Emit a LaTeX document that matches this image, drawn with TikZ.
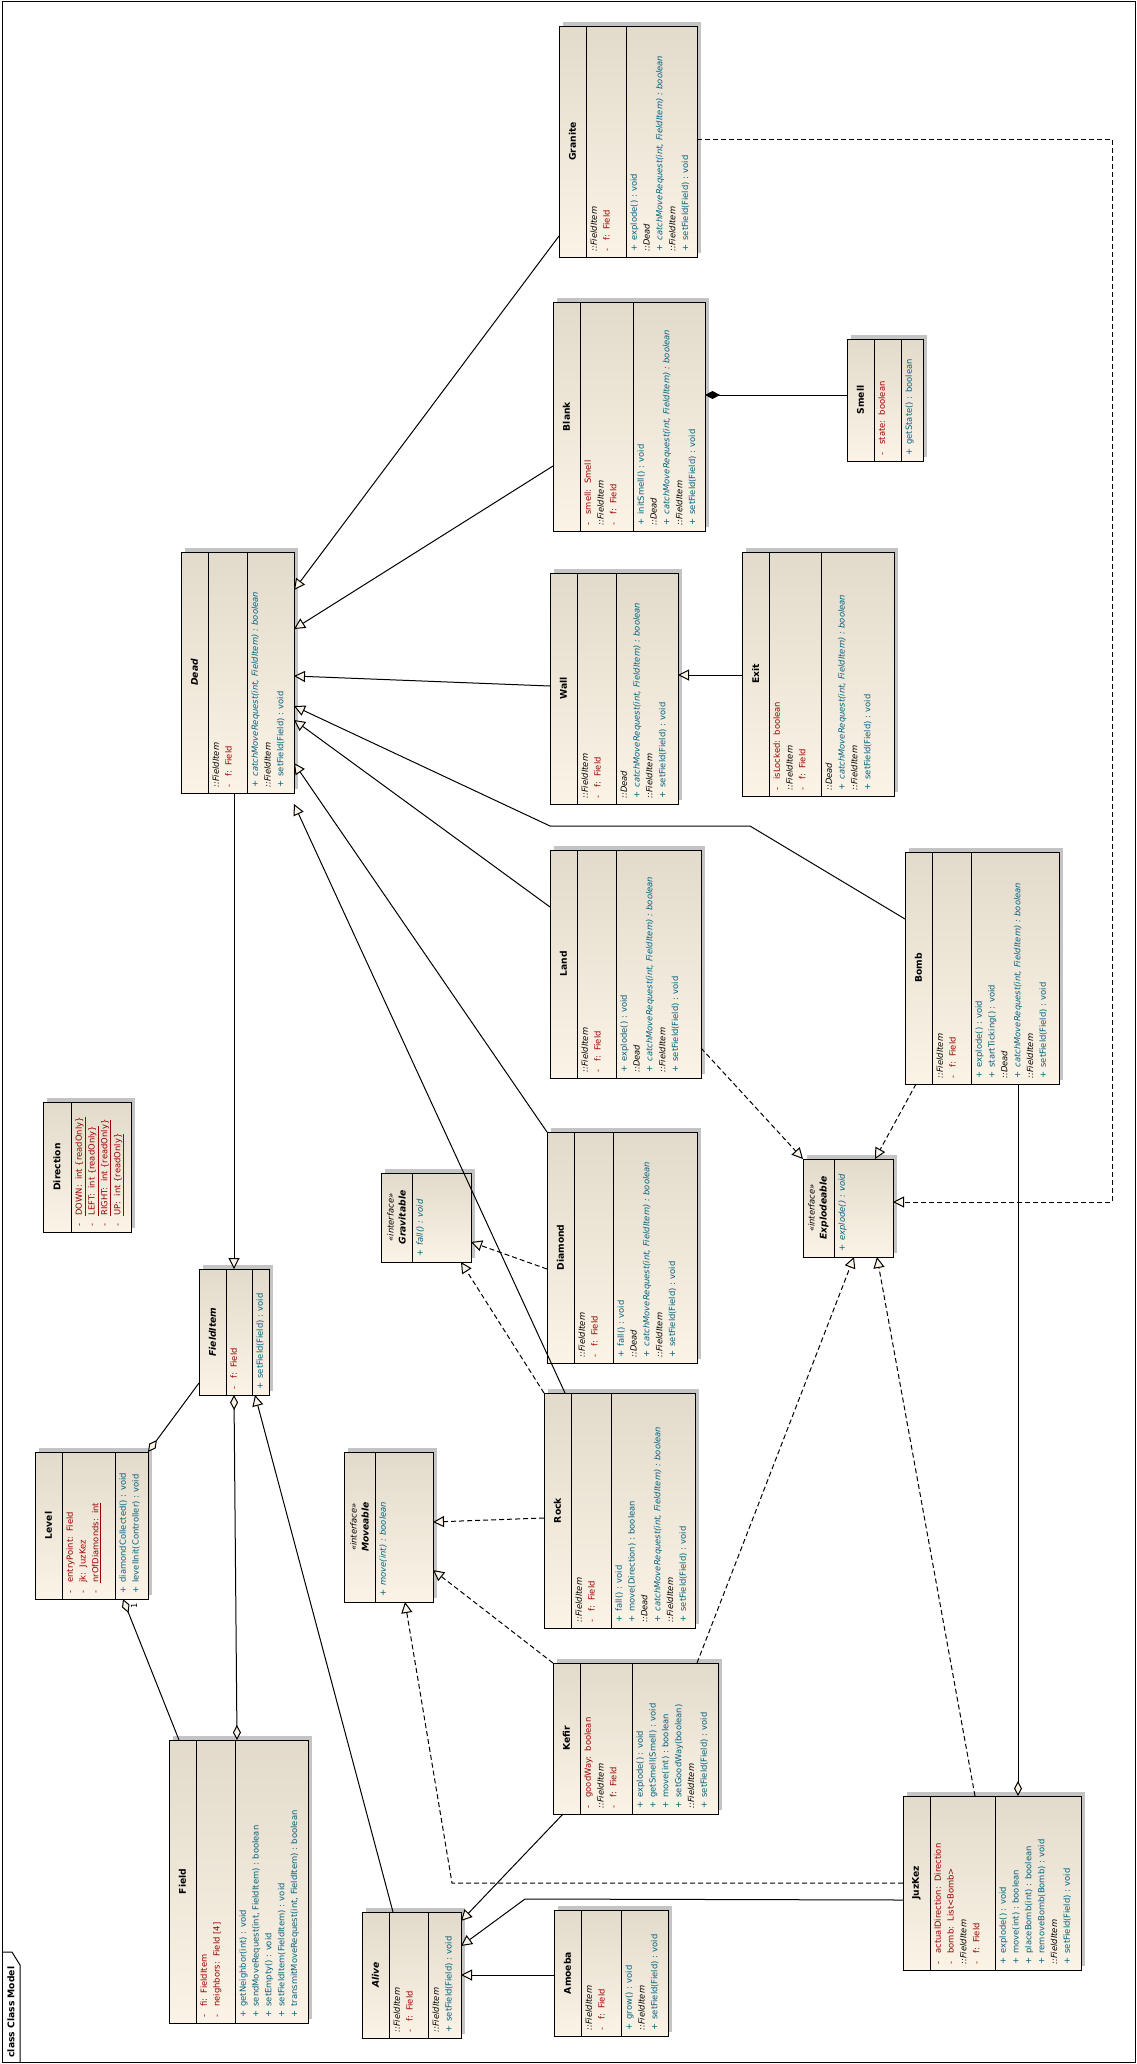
\documentclass[tikz,border=0pt]{standalone}
\usepackage{fontspec}
\setmainfont{DejaVu Sans}
\usetikzlibrary{arrows.meta}
\definecolor{attr}{HTML}{9A0000}
\definecolor{meth}{HTML}{00607F}
\definecolor{boxtop}{HTML}{E2DACB}
\definecolor{boxbot}{HTML}{FBF3E5}
\definecolor{shadowc}{HTML}{C4C4C4}
\newcommand\AT[1]{\textcolor{attr}{\makebox[11pt][l]{-}#1}}
\newcommand\MT[1]{\textcolor{meth}{\makebox[11pt][l]{+}#1}}
\newcommand\inh[1]{\textit{::#1}}
\newcommand\cmr{\MT{\textit{catchMoveRequest(int, FieldItem) : boolean}}}
\newcommand\sfl{\MT{setField(Field) : void}}
\newcommand\fif{\inh{FieldItem}\\\AT{f:\ \ Field}}
\tikzset{
 every path/.style={line width=1pt},
 cls/.style={draw, line width=1pt, top color=boxtop, bottom color=boxbot, inner sep=0pt, outer sep=0pt},
 txt/.style={rotate=90, inner sep=0pt, align=left, font=\fontsize{8.4}{12.8}\selectfont},
 ttl/.style={rotate=90, inner sep=0pt, align=center, font=\fontsize{9.2}{12}\selectfont\bfseries},
 gen/.style={-{Triangle[length=11pt,width=11pt,fill=boxbot]}},
 real/.style={gen, dash pattern=on 5pt off 3pt},
 aggr/.style={-{Diamond[length=15pt,width=8pt,fill=boxbot]}},
 comp/.style={-{Diamond[length=15pt,width=8pt,fill=black]}},
}
\newcommand\ubox[9]{%
 \fill[shadowc] (#2+4,#3-4) rectangle (#4+4,#5-4);
 \pgfmathsetmacro\bw{#4-#2}\pgfmathsetmacro\bh{#5-#3}
 \node[cls, minimum width=\bw pt, minimum height=\bh pt, anchor=north west] (#1) at (#2,#3) {};
 \draw (#6,#3) -- (#6,#5);
 \draw (#7,#3) -- (#7,#5);
 \node[txt, anchor=north west] at (#6+4,#5-5) {#8};
 \node[txt, anchor=north west] at (#7+4,#5-5) {#9};
 \coordinate (#1-t) at ({(#2+#6)/2},{(#3+#5)/2});
}
\newcommand\uboxtwo[7]{%
 \fill[shadowc] (#2+4,#3-4) rectangle (#4+4,#5-4);
 \pgfmathsetmacro\bw{#4-#2}\pgfmathsetmacro\bh{#5-#3}
 \node[cls, minimum width=\bw pt, minimum height=\bh pt, anchor=north west] (#1) at (#2,#3) {};
 \draw (#6,#3) -- (#6,#5);
 \node[txt, anchor=north west] at (#6+4,#5-5) {#7};
 \coordinate (#1-t) at ({(#2+#6)/2},{(#3+#5)/2});
}
\begin{document}
\begin{tikzpicture}[x=1pt,y=-1pt]
\useasboundingbox (0,0) rectangle (1137,2064);
\fill[white] (0,0) rectangle (1137,2064);
% frame
\draw (2,1) rectangle (1135,2062);
\draw (2,1952) -- (12,1952) -- (20,1965) -- (20,2062);
\node[rotate=90, anchor=west, inner sep=0pt, font=\fontsize{9.2}{12}\selectfont\bfseries] (title) at (11,2058) {class Class Model};

% boxes
\ubox{Granite}{559}{26}{697}{257}{586}{626}{\fif}{\MT{explode() : void}\\\inh{Dead}\\\cmr\\\inh{FieldItem}\\\sfl}
\ubox{Blank}{553}{302}{705}{531}{580}{633}{\AT{smell:\ \ Smell}\\\fif}{\MT{initSmell() : void}\\\inh{Dead}\\\cmr\\\inh{FieldItem}\\\sfl}
\ubox{Smell}{847}{339}{923}{461}{874}{901}{\AT{state:\ \ boolean}}{\MT{getState() : boolean}}
\ubox{Dead}{181}{552}{294}{793}{208}{247}{\fif}{\cmr\\\inh{FieldItem}\\\sfl}
\ubox{Wall}{550}{573}{678}{804}{577}{616}{\fif}{\inh{Dead}\\\cmr\\\inh{FieldItem}\\\sfl}
\ubox{Exit}{742}{552}{894}{796}{769}{821}{\AT{isLocked:\ \ boolean}\\\fif}{\inh{Dead}\\\cmr\\\inh{FieldItem}\\\sfl}
\ubox{Land}{550}{850}{701}{1078}{577}{616}{\fif}{\MT{explode() : void}\\\inh{Dead}\\\cmr\\\inh{FieldItem}\\\sfl}
\ubox{Bomb}{905}{852}{1059}{1084}{932}{971}{\fif}{\MT{explode() : void}\\\MT{startTicking() : void}\\\inh{Dead}\\\cmr\\\inh{FieldItem}\\\sfl}
\ubox{Diamond}{547}{1132}{697}{1363}{574}{613}{\fif}{\MT{fall() : void}\\\inh{Dead}\\\cmr\\\inh{FieldItem}\\\sfl}
\ubox{Rock}{544}{1393}{695}{1628}{571}{611}{\fif}{\MT{fall() : void}\\\MT{move(Direction) : boolean}\\\inh{Dead}\\\cmr\\\inh{FieldItem}\\\sfl}
\ubox{FieldItem}{199}{1269}{269}{1395}{226}{252}{\AT{f:\ \ Field}}{\sfl}
\ubox{Level}{35}{1452}{148}{1599}{62}{115}{\AT{entryPoint:\ \ Field}\\\AT{jk:\ \ JuzKez}\\\AT{\underline{nrOfDiamonds:\ \ int}}}{\MT{diamondCollected() : void}\\\MT{levelInit(Controller) : void}}
\ubox{Field}{169}{1740}{308}{2023}{196}{235}{\AT{fi:\ \ FieldItem}\\\AT{neighbors:\ \ Field [4]}}{\MT{getNeighbor(int) : void}\\\MT{sendMoveRequest(int, FieldItem) : boolean}\\\MT{setEmpty() : void}\\\MT{setFieldItem(FieldItem) : void}\\\MT{transmitMoveRequest(int, FieldItem) : boolean}}
\ubox{Kefir}{553}{1663}{718}{1814}{580}{632}{\AT{goodWay:\ \ boolean}\\\fif}{\MT{explode() : void}\\\MT{getSmell(Smell) : void}\\\MT{move(int) : boolean}\\\MT{setGoodWay(boolean)}\\\inh{FieldItem}\\\sfl}
\ubox{Alive}{362}{1912}{461}{2038}{389}{428}{\fif}{\inh{FieldItem}\\\sfl}
\ubox{Amoeba}{554}{1910}{668}{2036}{581}{621}{\fif}{\MT{grow() : void}\\\inh{FieldItem}\\\sfl}
\ubox{JuzKez}{903}{1796}{1081}{1970}{930}{995}{\AT{actualDirection:\ \ Direction}\\\AT{bomb:\ \ List<Bomb>}\\\fif}{\MT{explode() : void}\\\MT{move(int) : boolean}\\\MT{placeBomb(int) : boolean}\\\MT{removeBomb(Bomb) : void}\\\inh{FieldItem}\\\sfl}
\uboxtwo{Explodeable}{803}{1159}{893}{1257}{834}{\MT{\textit{explode() : void}}}
\uboxtwo{Gravitable}{381}{1173}{471}{1262}{412}{\MT{\textit{fall() : void}}}
\uboxtwo{Moveable}{344}{1452}{433}{1602}{375}{\MT{\textit{move(int) : boolean}}}
\uboxtwo{Direction}{43}{1102}{131}{1232}{71}{\AT{\underline{DOWN:\ \ int \{readOnly\}}}\\\AT{\underline{LEFT:\ \ int \{readOnly\}}}\\\AT{\underline{RIGHT:\ \ int \{readOnly\}}}\\\AT{\underline{UP:\ \ int \{readOnly\}}}}

% titles
\foreach \n in {Granite,Blank,Smell,Wall,Exit,Land,Bomb,Diamond,Rock,Level,Field,Kefir,Amoeba,JuzKez,Direction}
  \node[ttl] at (\n-t) {\n};
\foreach \n in {Dead,FieldItem,Alive}
  \node[ttl, font=\fontsize{9.2}{12}\selectfont\bfseries\itshape] at (\n-t) {\n};
\foreach \n in {Explodeable,Gravitable,Moveable}
  \node[ttl] at (\n-t) {{\fontsize{8.4}{11}\selectfont\mdseries\itshape «interface»}\\\textit{\n}};

% generalizations to Dead
\draw[gen] (Granite.west |- 0,236) -- (Dead.east |- 0,590);
\draw[gen] (Blank.west |- 0,466) -- (Dead.east |- 0,629);
\draw[gen] (Wall.west |- 0,686) -- (Dead.east |- 0,676);
\draw[gen] (Bomb.west |- 0,919) -- (750,826) -- (550,826) -- (Dead.east |- 0,706);
\draw[gen] (Land.west |- 0,907) -- (Dead.east |- 0,720);
\draw[gen] (Diamond.north west) -- (Dead.east |- 0,763);
\draw[gen] (Rock.north -| 565,0) -- (Dead.east |- 0,804);
\draw[gen] (Exit.west |- 0,675) -- (Wall.east |- 0,675);
\draw[comp] (Smell.west |- 0,395) -- (Blank.east |- 0,395);
% realizations
\draw[real] (Granite.east |- 0,139) -- (1112,139) -- (1112,1202) -- (Explodeable.east |- 0,1202);
\draw[real] (Land.east |- 0,1048) -- (Explodeable.north west);
\draw[real] (Bomb.south -| 916,0) -- (Explodeable.north -| 875,0);
\draw[real] (Kefir.north -| 697,0) -- (Explodeable.south -| 854,0);
\draw[real] (JuzKez.north -| 975,0) -- (Explodeable.south -| 877,0);
\draw[real] (Diamond.west |- 0,1269) -- (Gravitable.east |- 0,1242);
\draw[real] (Rock.north west) -- (Gravitable.south -| 461,0);
\draw[real] (Rock.west |- 0,1518) -- (Moveable.east |- 0,1522);
\draw[real] (Kefir.north west) -- (Moveable.east |- 0,1570);
\draw[real] (JuzKez.west |- 0,1883) -- (452,1883) -- (Moveable.south -| 405,0);
% other
\draw[aggr] (Bomb.south -| 1018,0) -- (JuzKez.north -| 1018,0);
\draw[gen] (Dead.south -| 234,0) -- (FieldItem.north -| 234,0);
\draw[gen] (Alive.north -| 393,0) -- (FieldItem.south -| 255,0);
\draw[gen] (Kefir.south -| 563,0) -- (Alive.east |- 0,1921);
\draw[gen] (JuzKez.west |- 0,1900) -- (525,1899) -- (Alive.east |- 0,1946);
\draw[gen] (Amoeba.west |- 0,1975) -- (Alive.east |- 0,1975);
\draw[aggr] (FieldItem.west |- 0,1383) -- (Level.north east);
\draw[aggr] (Field.north -| 179,0) -- (Level.south -| 123,0);
\node[rotate=90, inner sep=0pt, font=\fontsize{8.4}{10}\selectfont] (one) at (134,1606) {1};
\draw[{Diamond[length=15pt,width=8pt,fill=boxbot]}-{Diamond[length=15pt,width=8pt,fill=boxbot]}] (FieldItem.south -| 234,0) -- (Field.north -| 237,0);
\end{tikzpicture}
\end{document}
